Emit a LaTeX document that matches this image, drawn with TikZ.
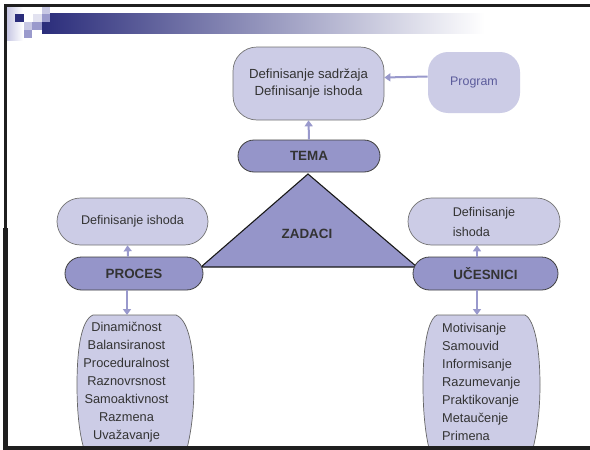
\documentclass[tikz,border=0pt]{standalone}
\usepackage{fontspec}
\setmainfont{Liberation Sans}
\usetikzlibrary{shapes.misc,arrows.meta}
\definecolor{lav}{HTML}{CCCCE6}
\definecolor{midp}{HTML}{9595C9}
\definecolor{arr}{HTML}{9999CC}
\definecolor{navy}{HTML}{2B2D7B}
\definecolor{txt}{HTML}{333333}
\definecolor{prog}{HTML}{5B5B9B}
\definecolor{sqlight}{HTML}{C8C8E4}
\definecolor{sqmid}{HTML}{9A9ACC}
\definecolor{sqpale}{HTML}{E2E2F0}
\begin{document}
\begin{tikzpicture}[x=1pt,y=-1pt,
  lightbox/.style={draw=black!55, fill=lav, line width=0.7pt, text=txt,
    font=\fontsize{12.6}{18}\selectfont, inner sep=0pt},
  pillbox/.style={lightbox, rounded rectangle},
  keybox/.style={rounded rectangle, draw=black!75, fill=midp, line width=0.8pt,
    text=txt, font=\fontsize{13.4}{16}\selectfont\bfseries, inner sep=0pt},
  link/.style={draw=arr, line width=2pt, -{Triangle[length=6pt,width=8pt]}},
  barrelst/.style={draw=black!60, fill=lav, line width=0.7pt},
  listtext/.style={text=txt, font=\fontsize{12.8}{18}\selectfont, inner sep=0pt}
]
\useasboundingbox (0,0) rectangle (590,450);
\fill[white] (0,0) rectangle (590,450);

% title bar
\shade[left color=navy, middle color=black!30!sqmid!60!white, right color=white] (42,13) rectangle (485,33);
\shade[left color=sqlight, right color=white] (7,6) rectangle (23,40);
\fill[navy] (15,14) rectangle (24,22);
\fill[sqlight] (42,6) rectangle (50,14);
\fill[sqpale] (33,14) rectangle (42,22);
\fill[sqmid] (42,14) rectangle (50,22);
\fill[sqlight] (24,22) rectangle (32,30);
\fill[sqmid] (32,22) rectangle (42,30);
\fill[sqmid] (24,30) rectangle (32,38);

% barrels
\draw[barrelst] (93,315) -- (176,315) .. controls (189,320) and (194,350) .. (194,385)
  .. controls (194,415) and (190,438) .. (186,452) -- (85,452)
  .. controls (80,438) and (77,415) .. (77,385)
  .. controls (77,350) and (81,320) .. (93,315) -- cycle;
\draw[barrelst] (437,315) -- (525,315) .. controls (535,320) and (540,350) .. (540,385)
  .. controls (540,415) and (536,438) .. (532,452) -- (430,452)
  .. controls (426,438) and (423,415) .. (423,385)
  .. controls (423,350) and (427,320) .. (437,315) -- cycle;
\coordinate (ltop) at (127,315);
\coordinate (rtop) at (477,315);

% triangle
\coordinate (tA) at (308,174);
\coordinate (tB) at (201,267);
\coordinate (tC) at (417,267);
\draw[black!90, line width=1.1pt, fill=midp] (tA) -- (tB) -- (tC) -- cycle;
\node[text=txt, font=\fontsize{13.4}{16}\selectfont\bfseries] (zad) at (307,234) {ZADACI};

% nodes
\node[lightbox, rounded corners=24pt, minimum width=151pt, minimum height=73pt,
  align=center, font=\fontsize{13.2}{17}\selectfont] (top) at (308.5,83.5)
  {Definisanje sadržaja\\Definisanje ishoda};
\node[lightbox, draw=none, rounded corners=20pt, minimum width=92pt, minimum height=61pt,
  text=prog, font=\fontsize{12.4}{16}\selectfont] (prg) at (474,82.5) {Program};
\node[keybox, minimum width=142pt, minimum height=32pt] (tema) at (309,156) {TEMA};
\node[pillbox, minimum width=151pt, minimum height=47pt] (defl) at (132.5,221.5) {Definisanje ishoda};
\node[keybox, minimum width=138pt, minimum height=33pt] (proc) at (134,273.5) {PROCES};
\node[pillbox, minimum width=152pt, minimum height=47pt, align=left,
  font=\fontsize{12.6}{20}\selectfont] (defr) at (484,221.5) {Definisanje\\ishoda};
\node[keybox, minimum width=145pt, minimum height=33pt] (uc) at (485.5,273.5) {UČESNICI};

\node[listtext, align=center] (ll) at (126.5,382)
  {Dinamičnost\\Balansiranost\\Proceduralnost\\Raznovrsnost\\Samoaktivnost\\Razmena\\Uvažavanje};
\node[listtext, align=left, anchor=west] (rl) at (442,382)
  {Motivisanje\\Samouvid\\Informisanje\\Razumevanje\\Praktikovanje\\Metaučenje\\Primena};

% connectors
\draw[link] ([yshift=6pt]prg.west) -- ([yshift=6pt]top.east);
\draw[link] (tema.north) -- (top.south);
\draw[link] ([xshift=-6pt]proc.north) -- ([xshift=-5pt]defl.south);
\draw[link] ([xshift=-7pt]proc.south) -- (ltop);
\draw[link] ([xshift=-8.5pt]uc.north) -- ([xshift=-7pt]defr.south);
\draw[link] ([xshift=-8.5pt]uc.south) -- (rtop);

% frame
\fill[black!88] (4,4) rectangle (590,6.5);
\fill[black!88] (4,4) rectangle (7,450);
\fill[black!88] (3,228) rectangle (8,450);
\fill[black!88] (4,446) rectangle (590,450);
\end{tikzpicture}
\end{document}
